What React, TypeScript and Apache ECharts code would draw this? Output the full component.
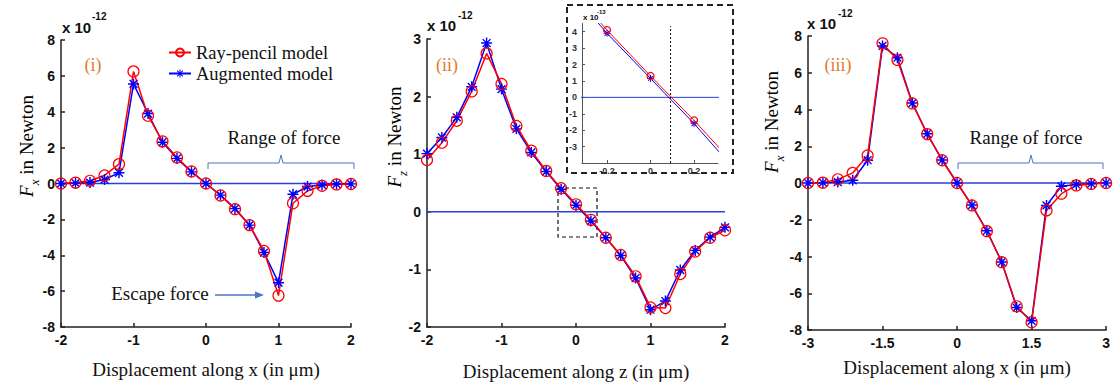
import React, { useEffect, useRef } from 'react';
import * as echarts from 'echarts';

// Panel (i): lateral force vs x displacement (x 1e-12 N)
const panel1X = [-2, -1.8, -1.6, -1.4, -1.2, -1, -0.8, -0.6, -0.4, -0.2, 0, 0.2, 0.4, 0.6, 0.8, 1, 1.2, 1.4, 1.6, 1.8, 2];
const panel1Ray = [0, 0.05, 0.15, 0.45, 1.08, 6.25, 3.78, 2.35, 1.45, 0.67, 0, -0.67, -1.43, -2.32, -3.76, -6.25, -1.1, -0.41, -0.13, -0.05, -0.03];
const panel1Aug = [0, 0.02, 0.05, 0.22, 0.6, 5.55, 3.9, 2.3, 1.4, 0.65, 0, -0.65, -1.4, -2.32, -3.85, -5.53, -0.6, -0.17, -0.08, -0.03, -0.02];

// Panel (ii): axial force vs z displacement (x 1e-12 N)
const panel2X = [-2, -1.8, -1.6, -1.4, -1.2, -1, -0.8, -0.6, -0.4, -0.2, 0, 0.2, 0.4, 0.6, 0.8, 1, 1.2, 1.4, 1.6, 1.8, 2];
const panel2Ray = [0.9, 1.2, 1.58, 2.09, 2.75, 2.22, 1.49, 1.06, 0.71, 0.41, 0.13, -0.14, -0.45, -0.75, -1.12, -1.66, -1.67, -1.08, -0.69, -0.45, -0.32];
const panel2Aug = [1.01, 1.29, 1.64, 2.17, 2.93, 2.13, 1.44, 1.03, 0.7, 0.39, 0.115, -0.16, -0.45, -0.76, -1.15, -1.7, -1.55, -1.01, -0.67, -0.44, -0.27];

// Inset of panel (ii) (x 1e-13 N)
const insetX = [-0.4, -0.2, 0, 0.2, 0.4];
const insetRay = [7.1, 4.1, 1.3, -1.4, -4.3];
const insetAug = [7.0, 3.9, 1.15, -1.6, -4.6];
const insetCrossing = 0.092;

// Panel (iii): lateral force vs x displacement (x 1e-12 N)
const panel3X = [-3, -2.7, -2.4, -2.1, -1.8, -1.5, -1.2, -0.9, -0.6, -0.3, 0, 0.3, 0.6, 0.9, 1.2, 1.5, 1.8, 2.1, 2.4, 2.7, 3];
const panel3Ray = [0, 0.02, 0.2, 0.55, 1.5, 7.6, 6.7, 4.33, 2.66, 1.24, 0, -1.22, -2.62, -4.31, -6.71, -7.58, -1.49, -0.58, -0.13, -0.05, 0];
const panel3Aug = [0, 0.02, 0.05, 0.15, 1.24, 7.46, 6.82, 4.35, 2.68, 1.25, 0, -1.2, -2.6, -4.3, -6.78, -7.5, -1.22, -0.18, -0.08, -0.03, 0];

const insetYTicks = [-3, -2, -1, 0, 1, 2, 3, 4];
const insetXTicks = [-0.2, 0, 0.2];

const RED = '#ff0000';
const BLUE = '#0000ff';
const ZERO_BLUE = '#2a3fe0';
const ORANGE = '#e57a2e';
const NOTE_BLUE = '#4a74c4';
const STAR =
  'path://M-0.65,-5L0.65,-5L0.65,5L-0.65,5Z M-5,-0.65L5,-0.65L5,0.65L-5,0.65Z M-4.0,-3.1L-3.1,-4.0L4.0,3.1L3.1,4.0Z M3.1,-4.0L4.0,-3.1L-3.1,4.0L-4.0,3.1Z';

const pts = (xs: number[], ys: number[]) => xs.map((x, i) => [x, ys[i]]);

const axisLineStyle = { color: '#222', width: 1.5 };
const labelStyle = { color: '#111', fontFamily: 'Liberation Sans', fontWeight: 'bold' as const, fontSize: 14 };

function mainX(gridIndex: number, min: number, max: number, interval: number, name: string, nameGap: number) {
  return {
    type: 'value', gridIndex, min, max, interval,
    name, nameLocation: 'middle', nameGap,
    nameTextStyle: { fontFamily: 'Liberation Serif', fontSize: 19, color: '#111' },
    axisLine: { show: true, onZero: false, lineStyle: axisLineStyle },
    axisTick: { show: true, inside: true, length: 4, lineStyle: axisLineStyle },
    axisLabel: { ...labelStyle, margin: 6 },
    splitLine: { show: false },
  };
}
function mainY(gridIndex: number, min: number, max: number, interval: number) {
  return {
    type: 'value', gridIndex, min, max, interval,
    axisLine: { show: true, onZero: false, lineStyle: axisLineStyle },
    axisTick: { show: true, inside: true, length: 4, lineStyle: axisLineStyle },
    axisLabel: { ...labelStyle, margin: 6 },
    splitLine: { show: false },
  };
}

function panelSeries(idx: number, xs: number[], ray: number[], aug: number[], zeroFrom: number, zeroTo: number, size: number, lw: number) {
  return [
    {
      type: 'line', xAxisIndex: idx, yAxisIndex: idx, silent: true, symbol: 'none',
      data: [[zeroFrom, 0], [zeroTo, 0]],
      lineStyle: { color: ZERO_BLUE, width: lw },
    },
    {
      name: 'Augmented model', type: 'line', xAxisIndex: idx, yAxisIndex: idx,
      data: pts(xs, aug), symbol: STAR, symbolSize: size,
      itemStyle: { color: BLUE, borderWidth: 0 },
      lineStyle: { color: BLUE, width: lw },
    },
    {
      name: 'Ray-pencil model', type: 'line', xAxisIndex: idx, yAxisIndex: idx,
      data: pts(xs, ray), symbol: 'circle', symbolSize: size,
      itemStyle: { color: 'rgba(255,255,255,0)', borderColor: RED, borderWidth: 1.2 },
      lineStyle: { color: RED, width: lw },
    },
  ];
}

function yTitle(x: number, y: number, sub: string) {
  return {
    type: 'text', x, y, rotation: Math.PI / 2,
    style: {
      text: `{f|F}{s|${sub}}{n| in Newton}`,
      textAlign: 'center', textVerticalAlign: 'middle',
      rich: {
        f: { fontFamily: 'Liberation Serif', fontStyle: 'italic', fontSize: 19, lineHeight: 20, verticalAlign: 'top', color: '#111' },
        s: { fontFamily: 'Liberation Serif', fontStyle: 'italic', fontSize: 13, lineHeight: 24, verticalAlign: 'bottom', color: '#111' },
        n: { fontFamily: 'Liberation Serif', fontSize: 19, lineHeight: 20, verticalAlign: 'top', color: '#111' },
      },
    },
  };
}

function scale(x: number, y: number, yExp: number, exp: string, size: number, expSize: number, expX: number) {
  return [
    { type: 'text', x, y, style: { text: 'x 10', font: `bold ${size}px "Liberation Sans"`, fill: '#111', textVerticalAlign: 'middle' } },
    { type: 'text', x: expX, y: yExp, style: { text: exp, font: `bold ${expSize}px "Liberation Sans"`, fill: '#111', textVerticalAlign: 'middle' } },
  ];
}

function text(x: number, y: number, t: string, size: number, fill: string) {
  return { type: 'text', x, y, style: { text: t, font: `${size}px "Liberation Serif"`, fill, textAlign: 'center', textVerticalAlign: 'middle' } };
}

function bracket(x1: number, xm: number, x2: number) {
  return {
    type: 'polyline',
    shape: { points: [[x1, 169], [x1, 163], [xm - 2, 163], [xm, 155], [xm + 2, 163], [x2, 163], [x2, 169]] },
    style: { stroke: NOTE_BLUE, lineWidth: 1, fill: 'none' },
  };
}

const insetAxisStyle = { color: '#555', width: 1 };
const insetLabel = { color: '#333', fontFamily: 'Liberation Sans', fontWeight: 'bold' as const, fontSize: 9 };

const option: any = {
  animation: false,
  backgroundColor: '#fff',
  grid: [
    { left: 61, top: 40, width: 290, height: 287 },
    { left: 427, top: 39, width: 298, height: 288 },
    { left: 808, top: 36, width: 299, height: 294 },
    { left: 582, top: 23.5, width: 136, height: 139.5 },
  ],
  xAxis: [
    mainX(0, -2, 2, 1, 'Displacement along x (in μm)', 33),
    mainX(1, -2, 2, 1, 'Displacement along z (in μm)', 35),
    mainX(2, -3, 3, 1.5, 'Displacement along x (in μm)', 28),
    {
      type: 'value', gridIndex: 3, min: -0.315, max: 0.31,
      axisLine: { show: true, onZero: false, lineStyle: insetAxisStyle },
      axisTick: { show: true, inside: true, length: 3, customValues: insetXTicks, lineStyle: insetAxisStyle },
      axisLabel: { ...insetLabel, margin: 3, customValues: insetXTicks },
      splitLine: { show: false },
    },
  ],
  yAxis: [
    mainY(0, -8, 8, 2),
    mainY(1, -2, 3, 1),
    mainY(2, -8, 8, 2),
    {
      type: 'value', gridIndex: 3, min: -4, max: 4.5,
      axisLine: { show: true, onZero: false, lineStyle: insetAxisStyle },
      axisTick: { show: true, inside: true, length: 3, customValues: insetYTicks, lineStyle: insetAxisStyle },
      axisLabel: { ...insetLabel, margin: 5, customValues: insetYTicks },
      splitLine: { show: false },
    },
  ],
  legend: {
    data: ['Ray-pencil model', 'Augmented model'],
    orient: 'vertical', left: 163, top: 38,
    itemWidth: 22, itemHeight: 10, itemGap: 2,
    textStyle: { fontFamily: 'Liberation Serif', fontSize: 18.5, color: '#111' },
  },
  series: [
    ...panelSeries(0, panel1X, panel1Ray, panel1Aug, -2, 2, 11, 1.5),
    ...panelSeries(1, panel2X, panel2Ray, panel2Aug, -2, 2, 11, 1.5),
    ...panelSeries(2, panel3X, panel3Ray, panel3Aug, -3, 3, 11, 1.5),
    ...panelSeries(3, insetX, insetRay, insetAug, -0.4, 0.4, 7, 1),
    {
      type: 'line', xAxisIndex: 3, yAxisIndex: 3, silent: true, symbol: 'none',
      data: [[insetCrossing, -4], [insetCrossing, 4.35]],
      lineStyle: { color: '#111', width: 1, type: [2, 2] },
    },
  ],
  graphic: [
    ...scale(62, 27, 16, '-12', 15, 10, 92),
    ...scale(427, 25, 15, '-12', 15, 10, 458),
    ...scale(807, 23, 13, '-12', 15, 10, 838),
    ...scale(583, 17, 12, '-13', 8, 6, 597),
    yTitle(29, 146, 'x'),
    yTitle(397, 137, 'z'),
    yTitle(774, 122, 'x'),
    text(93, 65, '(i)', 18, ORANGE),
    text(447, 65, '(ii)', 18, ORANGE),
    text(838, 65, '(iii)', 18, ORANGE),
    text(284, 137, 'Range of force', 19, '#111'),
    text(1026, 137, 'Range of force', 19, '#111'),
    bracket(208, 281, 354),
    bracket(958, 1031, 1103),
    text(160, 293, 'Escape force', 19, '#111'),
    { type: 'line', shape: { x1: 215, y1: 295, x2: 257, y2: 295 }, style: { stroke: NOTE_BLUE, lineWidth: 1.5 } },
    { type: 'polygon', shape: { points: [[264, 295], [255, 291.5], [255, 298.5]] }, style: { fill: NOTE_BLUE } },
    { type: 'rect', shape: { x: 558, y: 188, width: 39, height: 49 }, style: { fill: 'none', stroke: '#111', lineWidth: 1.2, lineDash: [4, 3] } },
    { type: 'rect', shape: { x: 567, y: 5, width: 166, height: 168 }, style: { fill: 'none', stroke: '#222', lineWidth: 2, lineDash: [6, 4] } },
  ],
};

export default function App() {
  const ref = useRef<HTMLDivElement>(null);
  useEffect(() => {
    const chart = echarts.init(ref.current!, null, { renderer: 'svg' });
    chart.setOption(option);
    return () => chart.dispose();
  }, []);
  return (
    <div
      ref={ref}
      style={{ position: 'absolute', left: 0, top: 0, width: 1113, height: 387, background: '#fff' }}
    />
  );
}
